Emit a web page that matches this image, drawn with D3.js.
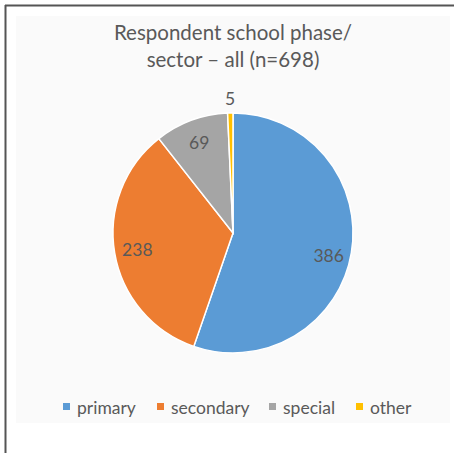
<!DOCTYPE html>
<html>
<head>
<meta charset="utf-8">
<script src="https://cdn.jsdelivr.net/npm/d3@7"></script>
<style>
  html, body { margin: 0; padding: 0; background: #ffffff; }
  svg { display: block; }
</style>
</head>
<body>
<svg id="chart" width="454" height="453"></svg>
<script>
// Respondent counts by school phase / sector
const categories = ["primary", "secondary", "special", "other"];
const counts = [386, 238, 69, 5];
const colors = ["#5b9bd5", "#ed7d31", "#a5a5a5", "#ffc000"];
const titleLines = ["Respondent school phase/", "sector \u2013 all (n=698)"];

const W = 454, H = 453;
const svg = d3.select("#chart");
const font = "Lato, 'Open Sans', sans-serif";
const textColor = "#595959";

// outer frame (left and top edges visible)
svg.append("line").attr("x1", 5.5).attr("y1", 5).attr("x2", 5.5).attr("y2", H)
  .attr("stroke", "#555").attr("stroke-width", 2);
svg.append("line").attr("x1", 5).attr("y1", 5.5).attr("x2", W).attr("y2", 5.5)
  .attr("stroke", "#555").attr("stroke-width", 2);

// chart area
svg.append("rect").attr("x", 16).attr("y", 16).attr("width", 434).attr("height", 407)
  .attr("fill", "#fafafa");

// title
svg.append("g").selectAll("text").data(titleLines).join("text")
  .attr("x", 233).attr("y", (d, i) => 39.5 + i * 27.5)
  .attr("text-anchor", "middle")
  .attr("font-family", font).attr("font-size", 20.5)
  .attr("fill", textColor)
  .text(d => d);

// pie
const cx = 233, cy = 233, R = 120;
const data = categories.map((c, i) => ({ cat: c, value: counts[i], color: colors[i] }));
const pie = d3.pie().value(d => d.value).sort(null);
const arcs = pie(data);
const arc = d3.arc().innerRadius(0).outerRadius(R);
const g = svg.append("g").attr("transform", `translate(${cx},${cy})`);

g.selectAll("path").data(arcs).join("path")
  .attr("d", arc)
  .attr("fill", d => d.data.color)
  .attr("stroke", "#ffffff").attr("stroke-width", 1.5);

// value labels: inside for large slices, outside for the smallest
const inner = d3.arc().innerRadius(97).outerRadius(97);
const outer = d3.arc().innerRadius(135).outerRadius(135);
g.selectAll("text.val").data(arcs).join("text")
  .attr("class", "val")
  .attr("transform", d => {
    const p = (d.data.value < 20 ? outer : inner).centroid(d);
    return `translate(${p[0]},${p[1] + (d.index === 0 ? 6 : 0)})`;
  })
  .attr("text-anchor", "middle")
  .attr("dominant-baseline", "central")
  .attr("font-family", font).attr("font-size", 17.5)
  .attr("fill", textColor)
  .text(d => d.data.value);

// legend
const legendX = [63, 157, 269, 356];
const lg = svg.append("g").selectAll("g").data(data).join("g")
  .attr("transform", (d, i) => `translate(${legendX[i]},407)`);
lg.append("rect").attr("x", 0).attr("y", -4).attr("width", 7).attr("height", 7)
  .attr("fill", d => d.color);
lg.append("text").attr("x", 14).attr("y", 0)
  .attr("dominant-baseline", "central")
  .attr("font-family", font).attr("font-size", 17.5)
  .attr("fill", textColor)
  .text(d => d.cat);
</script>
</body>
</html>
